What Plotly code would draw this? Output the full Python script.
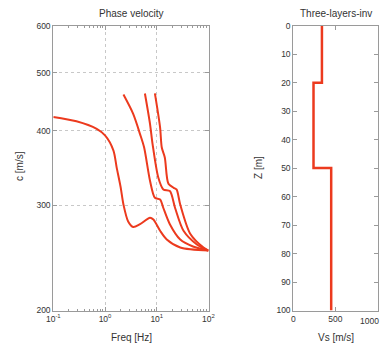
import plotly.graph_objects as go

# ---- data ----
f0 = [0.1, 0.28, 0.69, 1.0, 1.45, 1.68, 2.0, 2.27, 2.8, 3.5, 4.75, 7.4, 8.6, 11.6, 15.6, 28.4, 100]
c0 = [422, 415, 403, 393, 371, 347, 322, 301, 282, 276, 279, 286, 284, 272, 263, 255, 252]

f1 = [2.27, 3.5, 4.75, 5.7, 7.4, 9.2, 11.6, 13.4, 17.9, 28.4, 50, 100]
c1 = [460, 427, 395, 375, 330, 309, 307, 297, 279, 263, 256, 252]

f2 = [5.9, 7.4, 8.3, 10.7, 13.4, 17.9, 22.6, 32.9, 59.7, 100]
c2 = [462, 411, 380, 334, 319, 317, 297, 272, 258, 252]

f3 = [9.2, 11.6, 12.5, 14.3, 16.8, 21.2, 24.1, 28.4, 44.3, 80, 100]
c3 = [462, 405, 375, 361, 326, 321, 319, 301, 269, 255, 252]

layer_top = [0, 20, 50]
layer_bottom = [20, 50, 100]
layer_vs = [340, 240, 450]

freq_ticks = [0.1, 1, 10, 100]
freq_ticktext = ["10<sup>-1</sup>", "10<sup>0</sup>", "10<sup>1</sup>", "10<sup>2</sup>"]
freq_minor = [m * d for d in [0.1, 1, 10] for m in range(2, 10)]
c_ticks = [200, 300, 400, 500, 600]
z_ticks = list(range(0, 101, 10))
vs_ticks = [0, 500, 1000]
vs_ticktext = ["0", "500", ""]
vs_last_label = "1000"

RED = "#ec3a1e"
FRAME = "#9a9a9a"
TXT = "#333333"
FONT = "Liberation Sans, Arial, sans-serif"

W, H = 390, 344
OFF = 8  # page body margin


def fx(p):
    return (p - OFF) / W


def fy(p):
    return 1 - (p - OFF) / H


fig = go.Figure()
for f, c in [(f0, c0), (f1, c1), (f2, c2), (f3, c3)]:
    fig.add_trace(go.Scatter(x=f, y=c, mode="lines", line=dict(color=RED, width=2, shape="spline", smoothing=0.8),
                             xaxis="x", yaxis="y", showlegend=False, hoverinfo="skip"))

px, py = [], []
for t, b, v in zip(layer_top, layer_bottom, layer_vs):
    px += [v, v]
    py += [t, b]
fig.add_trace(go.Scatter(x=px, y=py, mode="lines", line=dict(color=RED, width=2.5), xaxis="x2", yaxis="y2",
                         showlegend=False, hoverinfo="skip"))

ydom = [fy(310.5), fy(25.7)]
axcommon = dict(showline=True, linecolor=FRAME, linewidth=1, mirror="ticks", ticks="inside", ticklen=4,
                tickcolor=FRAME, tickfont=dict(size=8.5, color=TXT, family=FONT), zeroline=False,
                automargin=False)

fig.update_layout(
    width=W, height=H, margin=dict(l=0, r=0, t=0, b=0),
    paper_bgcolor="white", plot_bgcolor="white",
    font=dict(family=FONT, color=TXT),
    xaxis=dict(axcommon, type="log", domain=[fx(53.3), fx(208.5)], range=[-1, 2],
               tickvals=freq_ticks, ticktext=freq_ticktext,
               showgrid=True, gridcolor="#c8c8c8", griddash="dot", gridwidth=1,
               minor=dict(tickvals=freq_minor, ticks="inside", ticklen=2, tickcolor=FRAME, showgrid=False),
               anchor="y"),
    yaxis=dict(axcommon, type="log", domain=ydom, range=[2.30103, 2.778151], tickvals=c_ticks,
               showgrid=True, gridcolor="#c8c8c8", griddash="dot", gridwidth=1, anchor="x"),
    xaxis2=dict(axcommon, domain=[fx(293.3), fx(377.5)], range=[0, 1000], tickvals=vs_ticks,
                ticktext=vs_ticktext, showgrid=False, anchor="y2"),
    yaxis2=dict(axcommon, domain=ydom, range=[100, 0], tickvals=z_ticks, showgrid=False, anchor="x2"),
)

ann = [
    dict(text="Phase velocity", x=fx(131), y=fy(13.5)),
    dict(text="Three-layers-inv", x=fx(336), y=fy(13.5)),
    dict(text="Freq [Hz]", x=fx(131), y=fy(337)),
    dict(text="Vs [m/s]", x=fx(336), y=fy(337)),
]
for a in ann:
    fig.add_annotation(text=a["text"], x=a["x"], y=a["y"], xref="paper", yref="paper", showarrow=False,
                       font=dict(size=10, color=TXT, family=FONT), xanchor="center", yanchor="middle")
fig.add_annotation(text="c [m/s]", x=fx(20), y=fy(166), xref="paper", yref="paper", showarrow=False,
                   textangle=-90, font=dict(size=10, color=TXT, family=FONT), xanchor="center", yanchor="middle")
fig.add_annotation(text="Z [m]", x=fx(259), y=fy(168), xref="paper", yref="paper", showarrow=False,
                   textangle=-90, font=dict(size=10, color=TXT, family=FONT), xanchor="center", yanchor="middle")
fig.add_annotation(text=vs_last_label, x=fx(381), y=fy(321), xref="paper", yref="paper", showarrow=False,
                   font=dict(size=8.5, color=TXT, family=FONT), xanchor="right", yanchor="middle")

fig.write_html("out.html")
